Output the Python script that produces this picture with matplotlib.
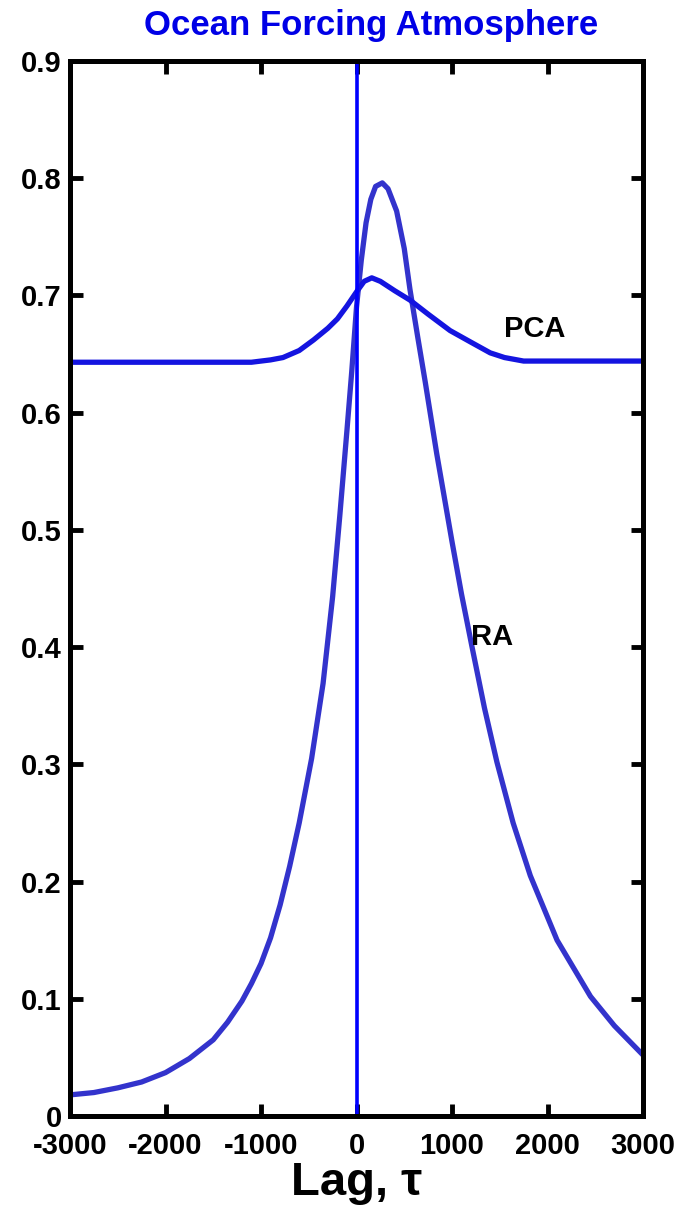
import matplotlib
matplotlib.use("Agg")
import matplotlib.pyplot as plt

# lag values and the two correlation curves
ra_lag = [-3000, -2750, -2500, -2250, -2000, -1750, -1500, -1350, -1200, -1100,
          -1000, -900, -800, -700, -600, -470, -350, -250, -175, -100,
          -50, 0, 50, 100, 150, 200, 270, 330, 420, 500,
          560, 640, 720, 840, 1000, 1100, 1210, 1340, 1470, 1640,
          1820, 2100, 2450, 2700, 3000]
ra_val = [0.018, 0.020, 0.024, 0.029, 0.037, 0.049, 0.065, 0.080, 0.098, 0.113,
          0.130, 0.152, 0.180, 0.213, 0.250, 0.305, 0.369, 0.443, 0.512, 0.585,
          0.635, 0.690, 0.730, 0.762, 0.782, 0.793, 0.796, 0.791, 0.772, 0.740,
          0.705, 0.665, 0.626, 0.565, 0.490, 0.445, 0.400, 0.348, 0.302, 0.250,
          0.205, 0.150, 0.102, 0.077, 0.052]

pca_lag = [-3000, -1100, -900, -770, -600, -450, -300, -200, -100, 0,
           80, 160, 250, 400, 560, 750, 980, 1200, 1400, 1550,
           1750, 3000]
pca_val = [0.643, 0.643, 0.645, 0.647, 0.653, 0.662, 0.672, 0.680, 0.691, 0.703,
           0.712, 0.715, 0.712, 0.704, 0.696, 0.684, 0.670, 0.660, 0.651, 0.647,
           0.644, 0.644]

x_ticks = [-3000, -2000, -1000, 0, 1000, 2000, 3000]
y_ticks = [0, 0.1, 0.2, 0.3, 0.4, 0.5, 0.6, 0.7, 0.8, 0.9]
y_tick_labels = ["0", "0.1", "0.2", "0.3", "0.4", "0.5", "0.6", "0.7", "0.8", "0.9"]

plt.rcParams["font.family"] = ["Liberation Sans", "DejaVu Sans"]
plt.rcParams["font.weight"] = "bold"

fig = plt.figure(figsize=(6.85, 12.17), dpi=100)
ax = fig.add_axes([0.1022, 0.083, 0.8365, 0.8669])

ax.plot(ra_lag, ra_val, color="#3333cc", lw=3.8, solid_joinstyle="round")
ax.plot(pca_lag, pca_val, color="#1414e0", lw=3.8, solid_joinstyle="round")
ax.axvline(0, color="#0000ff", lw=2.6)

# curve labels
ax.text(1869, 0.671, "PCA", fontsize=21, fontweight="bold", ha="center", va="center")
ax.text(1419, 0.409, "RA", fontsize=21, fontweight="bold", ha="center", va="center")

ax.set_xlim(-3000, 3000)
ax.set_ylim(0, 0.9)
ax.set_xticks(x_ticks)
ax.set_xticklabels([str(t) for t in x_ticks])
ax.set_yticks(y_ticks)
ax.set_yticklabels(y_tick_labels)

ax.tick_params(direction="in", length=9, width=3.5, labelsize=21,
               top=True, right=True)
ax.tick_params(axis="x", pad=11.5)
ax.tick_params(axis="y", pad=6)
for lab in ax.get_xticklabels() + ax.get_yticklabels():
    lab.set_fontweight("bold")
for s in ax.spines.values():
    s.set_linewidth(3.6)

ax.set_xlabel("Lag, \u03c4", fontsize=34, fontweight="bold", labelpad=1)
ax.set_title("Ocean Forcing Atmosphere", fontsize=25, fontweight="bold",
             color="#0000e6", pad=19, x=0.525)

fig.savefig("out.png", dpi=100)
